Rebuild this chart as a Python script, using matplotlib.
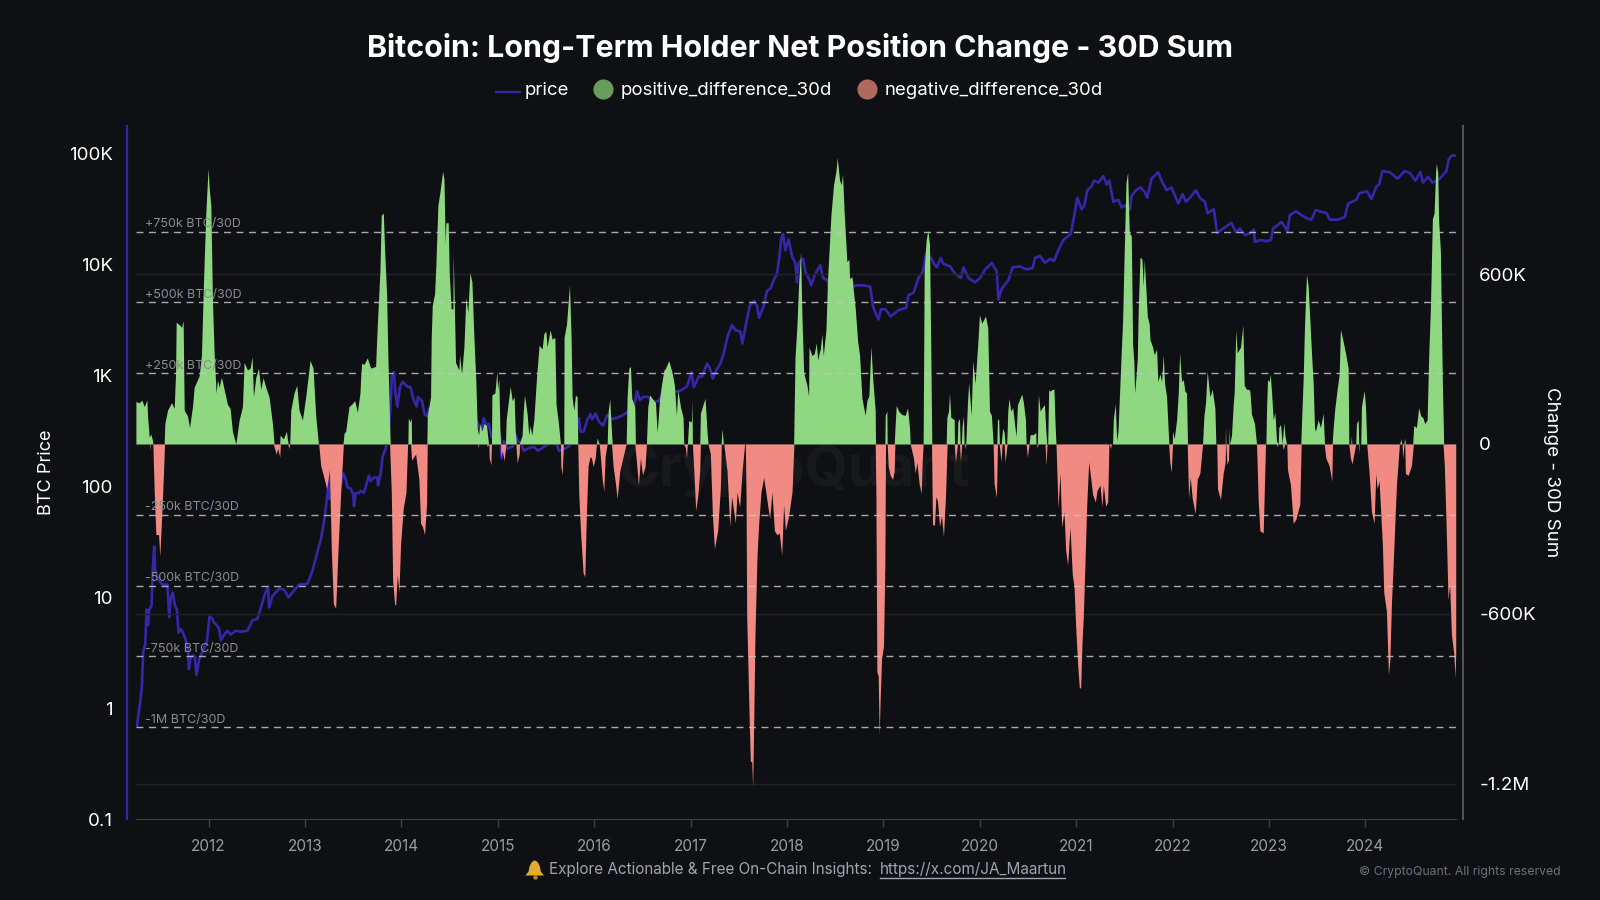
import numpy as np
import matplotlib
matplotlib.use("Agg")
import matplotlib.pyplot as plt
from matplotlib.lines import Line2D
from matplotlib.patches import Polygon, Circle

# (decimal year, thousand BTC over 30 days)
positive_difference_30d = [
(2011.247,150),(2011.281,145),(2011.309,155),(2011.333,132),(2011.361,155),(2011.368,99),(2011.385,24),(2011.402,35),(2011.420,11),(2011.423,0),
(2011.540,0),(2011.547,72),(2011.575,119),(2011.616,146),(2011.644,126),(2011.658,247),(2011.665,430),(2011.713,416),(2011.720,410),(2011.737,436),
(2011.748,119),(2011.782,99),(2011.803,58),(2011.834,132),(2011.851,200),(2011.903,240),(2011.927,315),(2011.948,572),(2011.972,815),(2011.986,910),
(2011.996,973),(2012.007,903),(2012.024,842),(2012.041,504),(2012.059,315),(2012.079,180),(2012.093,227),(2012.110,200),(2012.134,236),(2012.162,193),
(2012.197,139),(2012.224,126),(2012.248,45),(2012.283,0),(2012.318,85),(2012.352,132),(2012.369,288),(2012.404,261),(2012.432,268),(2012.452,308),
(2012.466,166),(2012.490,234),(2012.518,268),(2012.542,193),(2012.566,234),(2012.594,200),(2012.628,166),(2012.663,72),(2012.680,0),
(2012.739,0),(2012.742,31),(2012.777,18),(2012.808,45),(2012.825,0),
(2012.843,0),(2012.853,119),(2012.887,180),(2012.915,207),(2012.939,119),(2012.974,85),(2013.008,166),(2013.053,295),(2013.084,268),(2013.112,99),(2013.140,0),
(2013.395,0),(2013.406,38),(2013.423,45),(2013.457,132),(2013.482,139),(2013.516,153),(2013.544,112),(2013.571,180),(2013.578,234),(2013.588,285),
(2013.613,281),(2013.647,304),(2013.682,268),(2013.733,274),(2013.751,423),(2013.778,612),(2013.792,808),(2013.813,815),(2013.827,680),(2013.847,531),
(2013.861,301),(2013.882,31),(2013.885,0),
(2014.068,0),(2014.072,92),(2014.089,78),(2014.103,92),(2014.106,0),
(2014.265,0),(2014.269,99),(2014.303,166),(2014.310,376),(2014.321,490),(2014.345,531),(2014.359,639),(2014.379,842),(2014.400,889),(2014.428,963),
(2014.442,936),(2014.455,707),(2014.462,781),(2014.486,781),(2014.497,599),(2014.517,477),(2014.535,477),(2014.538,673),(2014.549,504),(2014.562,288),
(2014.597,261),(2014.604,315),(2014.625,247),(2014.649,342),(2014.669,518),(2014.690,464),(2014.711,605),(2014.732,572),(2014.752,382),(2014.773,220),
(2014.787,58),(2014.801,31),(2014.815,72),(2014.835,45),(2014.856,72),(2014.884,65),(2014.904,0),
(2014.935,0),(2014.939,173),(2014.970,180),(2014.991,258),(2014.998,193),(2015.011,231),(2015.022,58),(2015.029,0),
(2015.080,0),(2015.087,85),(2015.129,204),(2015.150,153),(2015.170,166),(2015.181,45),(2015.194,0),
(2015.222,0),(2015.253,31),(2015.264,112),(2015.277,173),(2015.305,105),(2015.322,31),(2015.336,65),(2015.353,31),(2015.374,85),(2015.402,234),
(2015.429,349),(2015.460,335),(2015.478,389),(2015.498,399),(2015.512,342),(2015.543,403),(2015.564,370),(2015.592,376),(2015.605,139),(2015.630,72),(2015.650,0),
(2015.685,0),(2015.688,376),(2015.713,423),(2015.744,561),(2015.761,369),(2015.771,166),(2015.789,119),(2015.806,173),(2015.823,166),(2015.830,0),
(2016.024,0),(2016.031,21),(2016.052,0),
(2016.135,0),(2016.145,116),(2016.162,158),(2016.169,108),(2016.187,0),
(2016.332,0),(2016.342,169),(2016.359,267),(2016.376,274),(2016.390,161),(2016.421,131),(2016.428,0),
(2016.542,0),(2016.556,131),(2016.577,173),(2016.601,161),(2016.636,146),(2016.653,41),(2016.663,86),(2016.677,154),(2016.694,199),(2016.722,259),
(2016.739,267),(2016.774,294),(2016.808,252),(2016.832,207),(2016.853,101),(2016.867,191),(2016.895,131),(2016.922,94),(2016.929,0),
(2016.967,0),(2016.981,83),(2017.009,78),(2017.015,154),(2017.019,0),
(2017.095,0),(2017.102,109),(2017.129,139),(2017.150,161),(2017.171,41),(2017.181,0),
(2017.316,0),(2017.326,53),(2017.340,0),
(2018.069,0),(2018.083,305),(2018.103,418),(2018.121,569),(2018.141,679),(2018.155,449),(2018.173,252),(2018.207,207),(2018.224,169),(2018.228,342),
(2018.259,312),(2018.283,319),(2018.304,357),(2018.318,297),(2018.338,327),(2018.345,335),(2018.362,388),(2018.376,312),(2018.404,403),(2018.421,584),
(2018.456,810),(2018.483,916),(2018.507,961),(2018.521,1011),(2018.545,931),(2018.563,916),(2018.576,953),(2018.594,810),(2018.621,644),(2018.642,652),
(2018.649,584),(2018.673,591),(2018.708,478),(2018.732,365),(2018.753,312),(2018.777,161),(2018.811,101),(2018.829,154),(2018.849,169),(2018.870,345),
(2018.891,221),(2018.915,116),(2018.918,0),
(2019.015,0),(2019.019,101),(2019.036,116),(2019.039,0),
(2019.112,0),(2019.122,71),(2019.133,136),(2019.157,116),(2019.191,104),(2019.226,101),(2019.250,128),(2019.271,56),(2019.278,0),
(2019.412,0),(2019.423,614),(2019.443,720),(2019.461,754),(2019.478,704),(2019.488,434),(2019.502,0),
(2019.651,0),(2019.658,94),(2019.675,116),(2019.685,179),(2019.699,94),(2019.734,86),(2019.737,0),
(2019.765,0),(2019.772,78),(2019.789,90),(2019.796,0),(2019.809,0),(2019.816,63),(2019.830,98),(2019.837,0),
(2019.854,0),(2019.872,146),(2019.885,217),(2019.910,101),(2019.927,293),(2019.951,214),(2019.979,357),(2019.996,456),(2020.020,426),(2020.037,437),
(2020.058,452),(2020.082,410),(2020.100,116),(2020.120,101),(2020.138,0),
(2020.176,0),(2020.183,90),(2020.196,83),(2020.203,0),(2020.221,0),(2020.238,56),(2020.252,41),(2020.262,0),
(2020.279,0),(2020.290,116),(2020.303,161),(2020.321,116),(2020.341,128),(2020.355,86),(2020.376,26),(2020.390,139),(2020.435,176),(2020.452,146),(2020.473,86),(2020.480,0),
(2020.511,0),(2020.521,33),(2020.556,33),(2020.580,41),(2020.583,0),
(2020.597,0),(2020.607,176),(2020.625,116),(2020.652,131),(2020.670,139),(2020.683,56),(2020.694,0),
(2020.704,0),(2020.714,191),(2020.728,186),(2020.752,193),(2020.769,193),(2020.780,72),(2020.790,0),
(2021.377,0),(2021.384,85),(2021.405,142),(2021.419,11),(2021.433,45),(2021.446,153),(2021.467,328),(2021.481,436),(2021.495,646),(2021.516,923),
(2021.533,959),(2021.550,747),(2021.571,734),(2021.585,349),(2021.598,288),(2021.605,180),(2021.619,234),(2021.633,301),(2021.643,477),(2021.661,659),
(2021.681,653),(2021.695,558),(2021.705,650),(2021.723,545),(2021.737,451),(2021.757,423),(2021.764,369),(2021.792,342),(2021.809,315),(2021.833,335),
(2021.847,220),(2021.868,247),(2021.885,220),(2021.902,315),(2021.916,214),(2021.937,166),(2021.951,65),(2021.961,0),
(2021.996,0),(2021.999,45),(2022.016,18),(2022.041,85),(2022.058,180),(2022.072,322),(2022.092,220),(2022.110,227),(2022.127,186),(2022.144,180),(2022.154,0),
(2022.310,0),(2022.324,99),(2022.341,146),(2022.358,257),(2022.386,166),(2022.410,193),(2022.438,126),(2022.448,0),
(2022.545,0),(2022.548,61),(2022.552,0),(2022.583,0),(2022.586,58),(2022.593,0),
(2022.610,31),(2022.628,139),(2022.638,180),(2022.655,403),(2022.669,322),(2022.704,342),(2022.728,420),(2022.742,207),(2022.766,193),(2022.790,193),
(2022.801,186),(2022.818,105),(2022.849,72),(2022.870,0),
(2022.967,0),(2022.974,126),(2022.984,227),(2023.001,220),(2023.012,247),(2023.026,180),(2023.043,85),(2023.060,112),(2023.077,11),(2023.095,0),
(2023.101,58),(2023.119,69),(2023.136,0),(2023.153,76),(2023.164,31),(2023.181,0),
(2023.329,0),(2023.336,72),(2023.354,234),(2023.367,411),(2023.388,599),(2023.405,558),(2023.423,436),(2023.443,301),(2023.457,220),(2023.471,58),
(2023.481,45),(2023.509,85),(2023.533,58),(2023.561,108),(2023.575,0),
(2023.654,0),(2023.665,58),(2023.682,126),(2023.706,193),(2023.727,247),(2023.740,405),(2023.768,362),(2023.796,315),(2023.820,268),(2023.827,0),
(2023.848,0),(2023.854,31),(2023.858,0),(2023.899,0),(2023.906,72),(2023.924,85),(2023.930,0),
(2023.951,0),(2023.958,132),(2023.986,189),(2024.000,132),(2024.013,0),
(2024.355,0),(2024.366,18),(2024.376,0),(2024.397,0),(2024.407,20),(2024.414,0),
(2024.490,0),(2024.500,65),(2024.528,58),(2024.552,128),(2024.573,99),(2024.597,92),(2024.614,72),(2024.639,85),(2024.656,315),(2024.673,477),
(2024.694,795),(2024.711,815),(2024.728,964),(2024.735,991),(2024.749,958),(2024.759,788),(2024.777,680),(2024.797,220),(2024.811,0),
]

negative_difference_30d = [
(2011.392,0),(2011.395,-23),(2011.399,0),(2011.423,0),(2011.437,-172),(2011.454,-320),(2011.482,-320),(2011.495,-397),(2011.513,-266),(2011.533,-104),(2011.544,0),
(2012.670,0),(2012.680,-9),(2012.701,-36),(2012.718,-16),(2012.739,-46),(2012.746,0),(2012.822,0),(2012.832,-16),(2012.843,0),
(2013.143,0),(2013.164,-77),(2013.191,-111),(2013.226,-158),(2013.254,-90),(2013.274,-374),(2013.295,-564),(2013.319,-580),(2013.343,-374),(2013.371,-172),(2013.399,0),
(2013.878,0),(2013.896,-172),(2013.910,-482),(2013.930,-564),(2013.941,-570),(2013.958,-461),(2013.975,-523),(2013.992,-355),(2014.020,-226),(2014.048,-172),(2014.065,0),
(2014.096,0),(2014.106,-57),(2014.148,-36),(2014.182,-124),(2014.200,-280),(2014.220,-293),(2014.241,-320),(2014.262,-212),(2014.269,0),
(2014.794,0),(2014.797,-14),(2014.804,0),(2014.884,0),(2014.891,-9),(2014.908,0),(2014.911,-50),(2014.929,-73),(2014.935,0),
(2015.029,0),(2015.032,-43),(2015.046,-23),(2015.067,-59),(2015.084,0),(2015.188,0),(2015.201,-66),(2015.222,-36),(2015.226,0),
(2015.650,0),(2015.654,-77),(2015.668,-108),(2015.681,0),
(2015.830,0),(2015.840,-172),(2015.858,-307),(2015.885,-455),(2015.903,-469),(2015.920,-239),(2015.937,-77),(2015.954,-50),(2015.962,-45),(2015.972,-50),(2015.990,-80),(2016.010,-50),(2016.024,0),
(2016.052,0),(2016.066,-50),(2016.083,-124),(2016.100,-167),(2016.114,-42),(2016.135,0),
(2016.180,0),(2016.197,-80),(2016.221,-140),(2016.238,-193),(2016.266,-95),(2016.307,-35),(2016.332,0),
(2016.421,0),(2016.439,-65),(2016.459,-145),(2016.480,-50),(2016.501,-110),(2016.528,-80),(2016.542,0),
(2016.926,0),(2016.946,-12),(2016.957,-50),(2016.967,0),
(2017.019,0),(2017.040,-140),(2017.053,-235),(2017.074,-186),(2017.095,-95),(2017.102,0),
(2017.181,0),(2017.205,-35),(2017.226,-246),(2017.247,-370),(2017.281,-306),(2017.309,-155),(2017.319,0),
(2017.344,0),(2017.378,-95),(2017.406,-291),(2017.426,-186),(2017.464,-279),(2017.482,-170),(2017.509,-223),(2017.534,-95),(2017.558,-12),(2017.561,0),
(2017.568,0),(2017.575,-178),(2017.582,-608),(2017.596,-804),(2017.610,-1000),(2017.620,-1121),(2017.634,-1121),(2017.644,-1211),(2017.654,-1000),(2017.668,-668),
(2017.689,-395),(2017.706,-283),(2017.730,-170),(2017.758,-118),(2017.793,-201),(2017.820,-264),(2017.844,-170),(2017.869,-306),(2017.896,-321),(2017.920,-314),
(2017.945,-392),(2017.965,-216),(2017.983,-306),(2018.017,-253),(2018.052,-170),(2018.072,0),
(2018.915,0),(2018.922,-170),(2018.932,-804),(2018.946,-820),(2018.956,-1030),(2018.967,-895),(2018.981,-758),(2019.001,-713),(2019.015,-426),(2019.022,0),
(2019.039,0),(2019.050,-80),(2019.070,-110),(2019.095,-125),(2019.112,-95),(2019.119,0),
(2019.278,0),(2019.312,-50),(2019.329,-103),(2019.347,-65),(2019.371,-140),(2019.392,-175),(2019.402,-65),(2019.412,0),
(2019.499,0),(2019.509,-284),(2019.530,-287),(2019.544,-186),(2019.561,-201),(2019.582,-291),(2019.602,-253),(2019.623,-326),(2019.644,-186),(2019.661,0),
(2019.734,0),(2019.747,-65),(2019.768,0),(2019.789,0),(2019.799,-62),(2019.813,0),(2019.841,0),(2019.851,-17),(2019.854,0),
(2020.138,0),(2020.148,-140),(2020.172,-189),(2020.183,0),(2020.200,0),(2020.221,-62),(2020.231,0),(2020.252,0),(2020.262,-65),(2020.283,0),
(2020.480,0),(2020.493,-47),(2020.511,0),(2020.590,0),(2020.597,-15),(2020.604,0),(2020.676,0),(2020.687,-75),(2020.697,0),
(2020.790,0),(2020.811,-226),(2020.832,-104),(2020.849,-293),(2020.873,-239),(2020.890,-374),(2020.911,-428),(2020.935,-293),(2020.959,-462),(2020.977,-503),
(2020.994,-645),(2021.015,-780),(2021.032,-861),(2021.046,-861),(2021.060,-699),(2021.073,-611),(2021.091,-416),(2021.108,-220),(2021.129,-64),(2021.149,-118),
(2021.170,-178),(2021.198,-205),(2021.215,-165),(2021.246,-145),(2021.267,-220),(2021.281,-145),(2021.305,-220),(2021.326,-205),(2021.339,0),(2021.343,0),(2021.357,-16),(2021.364,0),
(2021.958,0),(2021.971,-64),(2021.985,-100),(2021.999,0),
(2022.151,0),(2022.165,-192),(2022.182,-118),(2022.203,-192),(2022.234,-246),(2022.255,-124),(2022.282,-104),(2022.310,0),
(2022.458,0),(2022.465,-158),(2022.496,-196),(2022.524,-104),(2022.545,-64),(2022.548,0),(2022.552,0),(2022.562,-70),(2022.579,-57),(2022.583,0),
(2022.870,0),(2022.887,-199),(2022.905,-307),(2022.939,-314),(2022.963,0),
(2023.077,0),(2023.084,-9),(2023.095,0),(2023.136,0),(2023.146,-19),(2023.164,0),
(2023.184,0),(2023.191,-91),(2023.222,-145),(2023.250,-280),(2023.278,-266),(2023.319,-212),(2023.333,0),
(2023.571,0),(2023.589,-50),(2023.623,-77),(2023.651,-131),(2023.658,0),
(2023.827,0),(2023.844,-50),(2023.861,-70),(2023.879,-36),(2023.899,0),(2023.930,0),(2023.934,-34),(2023.937,0),
(2024.013,0),(2024.038,-104),(2024.062,-239),(2024.089,-280),(2024.107,-104),(2024.120,-158),(2024.141,-131),(2024.176,-361),(2024.189,-523),(2024.217,-590),
(2024.238,-814),(2024.252,-767),(2024.269,-565),(2024.293,-374),(2024.321,-145),(2024.352,0),
(2024.379,0),(2024.386,-50),(2024.400,0),(2024.407,0),(2024.414,-104),(2024.442,-111),(2024.476,-77),(2024.497,0),
(2024.804,0),(2024.818,-77),(2024.839,-320),(2024.856,-550),(2024.873,-496),(2024.891,-672),(2024.915,-739),(2024.929,-824),(2024.936,-739),
]

# (decimal year, BTC price in USD)
price = [
(2011.257,0.69),(2011.271,0.84),(2011.292,1.15),(2011.309,1.58),(2011.323,3.24),(2011.344,3.8),(2011.357,7.76),(2011.375,5.6),(2011.385,7.76),(2011.409,8.4),
(2011.423,18.6),(2011.437,28.7),(2011.447,17.2),(2011.464,15.8),(2011.489,14),(2011.523,13),(2011.575,13),(2011.592,6.6),(2011.609,9.8),(2011.630,11),
(2011.651,8.4),(2011.672,7.76),(2011.689,4.8),(2011.713,5.2),(2011.734,4.8),(2011.765,4.1),(2011.789,3.24),(2011.796,2.26),(2011.817,2.9),(2011.844,3),
(2011.858,2.9),(2011.875,2.0),(2011.903,2.76),(2011.938,3.24),(2011.983,3.95),(2012.010,6.7),(2012.034,6.5),(2012.059,5.9),(2012.086,5.6),(2012.110,5.2),
(2012.128,4.1),(2012.162,4.6),(2012.197,5),(2012.231,4.6),(2012.283,5),(2012.335,4.9),(2012.404,5),(2012.456,6.2),(2012.508,6.4),(2012.549,8.4),
(2012.584,10.7),(2012.618,12.5),(2012.628,8.1),(2012.663,10.2),(2012.732,12),(2012.784,11.7),(2012.829,10),(2012.887,11.5),(2012.939,13),(2013.026,13.2),
(2013.077,17.2),(2013.129,25.5),(2013.171,35),(2013.198,48),(2013.233,84),(2013.250,135),(2013.254,77),(2013.302,84),(2013.371,102),(2013.399,130),
(2013.423,115),(2013.440,98),(2013.475,95),(2013.502,84),(2013.509,66),(2013.526,87),(2013.561,87),(2013.578,91),(2013.613,87),(2013.664,125),
(2013.682,111),(2013.716,120),(2013.751,120),(2013.758,102),(2013.785,130),(2013.806,186),(2013.837,218),(2013.861,276),(2013.882,445),(2013.903,985),
(2013.923,1067),(2013.937,716),(2013.958,521),(2013.986,776),(2014.013,873),(2014.062,789),(2014.096,776),(2014.124,611),(2014.158,521),(2014.172,635),
(2014.214,587),(2014.241,445),(2014.269,428),(2014.286,500),(2014.320,521),(2014.372,482),(2014.476,445),(2014.614,380),(2014.752,395),(2014.787,380),
(2014.828,311),(2014.856,411),(2014.884,351),(2014.908,365),(2014.935,276),(2014.977,276),(2015.029,276),(2015.039,179),(2015.063,255),(2015.098,218),
(2015.150,226),(2015.188,288),(2015.208,255),(2015.236,245),(2015.270,209),(2015.322,221),(2015.374,226),(2015.416,209),(2015.460,221),(2015.512,236),
(2015.564,245),(2015.616,236),(2015.633,209),(2015.702,218),(2015.754,236),(2015.806,276),(2015.840,411),(2015.858,311),(2015.892,311),(2015.927,395),
(2015.961,445),(2015.979,401),(2016.014,450),(2016.048,384),(2016.093,351),(2016.135,438),(2016.187,401),(2016.256,419),(2016.325,450),(2016.376,500),
(2016.411,524),(2016.446,714),(2016.473,598),(2016.515,641),(2016.566,635),(2016.601,571),(2016.670,587),(2016.722,714),(2016.791,714),(2016.853,714),
(2016.895,726),(2016.964,794),(2017.009,1064),(2017.033,780),(2017.085,973),(2017.119,973),(2017.171,1270),(2017.199,1161),(2017.230,931),(2017.268,1112),
(2017.309,1270),(2017.344,1585),(2017.385,2259),(2017.430,2825),(2017.465,2541),(2017.516,2472),(2017.537,1928),(2017.568,2698),(2017.613,4207),(2017.661,4677),
(2017.689,4207),(2017.710,3281),(2017.758,4207),(2017.793,5741),(2017.827,5998),(2017.862,7161),(2017.896,8185),(2017.924,12218),(2017.938,16672),(2017.958,18707),
(2017.983,13335),(2018.017,16672),(2018.052,11695),(2018.086,10233),(2018.103,6871),(2018.121,10233),(2018.166,11169),(2018.190,8570),(2018.224,7499),(2018.252,6442),
(2018.283,7834),(2018.345,9772),(2018.373,7499),(2018.421,7161),(2018.449,5495),(2018.552,6500),(2018.673,7161),(2018.690,6281),(2018.725,6442),(2018.794,6442),
(2018.863,6281),(2018.891,4207),(2018.915,3681),(2018.949,3170),(2018.974,3917),(2019.019,3917),(2019.077,3373),(2019.157,3855),(2019.236,4027),(2019.260,5248),
(2019.312,5495),(2019.364,7499),(2019.409,8570),(2019.443,12500),(2019.485,11695),(2019.519,10233),(2019.554,9354),(2019.595,11376),(2019.623,10046),(2019.692,9528),
(2019.744,8185),(2019.803,7499),(2019.830,9354),(2019.882,7499),(2019.951,6855),(2020.003,7499),(2020.055,8954),(2020.124,10233),(2020.176,8570),(2020.193,4808),
(2020.227,5998),(2020.296,7161),(2020.341,9354),(2020.417,9528),(2020.486,8954),(2020.548,9204),(2020.572,11376),(2020.624,11858),(2020.676,10233),(2020.728,11169),
(2020.769,10666),(2020.814,13305),(2020.866,16482),(2020.942,18578),(2020.970,24547),(2021.011,39537),(2021.056,31117),(2021.084,33729),(2021.115,46345),(2021.160,50119),
(2021.184,56494),(2021.229,54200),(2021.281,62087),(2021.315,52119),(2021.343,56494),(2021.384,36475),(2021.436,37931),(2021.471,32359),(2021.505,33729),(2021.557,31117),
(2021.574,41115),(2021.619,46345),(2021.667,48978),(2021.712,44463),(2021.736,39537),(2021.781,58749),(2021.850,67298),(2021.885,56494),(2021.937,46345),(2021.989,48978),
(2022.058,35075),(2022.103,42756),(2022.137,36475),(2022.179,39537),(2022.241,46345),(2022.282,39537),(2022.334,36475),(2022.362,28774),(2022.427,31117),(2022.462,19011),
(2022.524,20941),(2022.610,23550),(2022.655,19320),(2022.697,20941),(2022.749,18281),(2022.801,18880),(2022.842,20417),(2022.853,15849),(2022.905,16482),(2022.974,16106),
(2023.019,16482),(2023.043,20941),(2023.129,23933),(2023.164,21777),(2023.188,19320),(2023.215,27606),(2023.278,29923),(2023.336,27606),(2023.388,25942),(2023.440,25119),
(2023.481,30620),(2023.595,28774),(2023.630,25119),(2023.716,25119),(2023.785,26546),(2023.820,35075),(2023.906,37931),(2023.934,43451),(2024.017,45186),(2024.062,38548),
(2024.114,50119),(2024.141,52119),(2024.176,68865),(2024.252,67298),(2024.331,58749),(2024.407,68865),(2024.459,66222),(2024.518,56494),(2024.569,67298),(2024.597,54200),
(2024.649,61094),(2024.694,54200),(2024.770,58749),(2024.839,68865),(2024.863,87297),(2024.891,94624),(2024.925,94624),
]

year_ticks = list(range(2012, 2025))
price_ticks = [0.1, 1, 10, 100, 1000, 10000, 100000]
price_labels = ["0.1", "1", "10", "100", "1K", "10K", "100K"]
change_ticks = [-1200, -600, 0, 600]
change_labels = ["-1.2M", "-600K", "0", "600K"]
guide_levels = [750, 500, 250, -250, -500, -750, -1000]
guide_labels = ["+750k BTC/30D", "+500k BTC/30D", "+250k BTC/30D", "-250k BTC/30D",
                "-500k BTC/30D", "-750k BTC/30D", "-1M BTC/30D"]

BG = "#0f1013"
GREEN = "#8fd780"
RED = "#f08a82"
PURPLE = "#3726a8"

plt.rcParams["font.family"] = ["Inter", "DejaVu Sans"]

W, H = 1568.0, 882.0
def fx(x):
	return x / W
def fy(y):
	return 1 - y / H

fig = plt.figure(figsize=(16, 9), dpi=100, facecolor=BG)
ax = fig.add_axes([fx(133), fy(803), fx(1427) - fx(133), fy(123) - fy(803)])
ax.patch.set_visible(False)
ax2 = ax.twinx()
ax2.patch.set_visible(False)

# watermark sits behind both axes
fig.text(fx(778), fy(461), "CryptoQuant", color="#18191d", fontsize=40, ha="center", va="center",
         fontweight="bold", zorder=-1)

price_x, price_y = np.array(price).T
ax.plot(price_x, price_y, color=PURPLE, lw=1.9, solid_joinstyle="round")
ax.set_yscale("log")
ax.set_ylim(0.1, 177000)
ax.set_xlim(2011.245, 2024.94)
ax.set_yticks(price_ticks)
ax.set_yticklabels(price_labels)
ax.yaxis.set_minor_locator(matplotlib.ticker.NullLocator())
ax.tick_params(axis="y", length=0, pad=10, labelsize=13.5, labelcolor="white")
ax.set_xticks(year_ticks)
ax.set_xticklabels(year_ticks)
ax.tick_params(axis="x", length=6, width=1, color="#3f3f47", pad=8, labelsize=11, labelcolor="#9b9ba3")

pos_x, pos_y = np.array(positive_difference_30d).T
neg_x, neg_y = np.array(negative_difference_30d).T
ax2.fill_between(pos_x, 0, pos_y, color=GREEN, lw=0, zorder=2)
ax2.fill_between(neg_x, 0, neg_y, color=RED, lw=0, zorder=2)
ax2.set_ylim(-1325.6, 1124.4)
ax2.set_yticks(change_ticks)
ax2.set_yticklabels(change_labels)
ax2.tick_params(axis="y", length=0, pad=11.5, labelsize=13.5, labelcolor="white")
ax2.grid(axis="y", color="#212227", lw=1, zorder=1)
ax2.set_axisbelow(True)

for level, label in zip(guide_levels, guide_labels):
	ax2.axhline(level, color="#c4c4ca", lw=1, dashes=(5, 4), alpha=0.85, zorder=3)
	ax2.annotate(label, (2011.245, level), xytext=(7, 1), textcoords="offset points",
	             color="#8b8b93", fontsize=9, va="bottom", zorder=4)

for a in (ax, ax2):
	a.spines["top"].set_visible(False)
	a.spines["right"].set_visible(False)
	a.spines["left"].set_visible(False)
ax.spines["bottom"].set_color("#3f3f47")
ax2.spines["bottom"].set_visible(False)
ax.spines["left"].set_visible(True)
ax.spines["left"].set_position(("outward", 6.6))
ax.spines["left"].set_color(PURPLE)
ax.spines["left"].set_linewidth(1.6)
ax2.spines["right"].set_visible(True)
ax2.spines["right"].set_position(("outward", 5.2))
ax2.spines["right"].set_color("#55555c")
ax2.spines["right"].set_linewidth(1.4)

fig.text(fx(784), fy(47), "Bitcoin: Long-Term Holder Net Position Change - 30D Sum", color="white",
         fontsize=21.85, fontweight="bold", ha="center", va="center")

fig.add_artist(Line2D([fx(486), fx(510)], [fy(90), fy(90)], color=PURPLE, lw=1.6))
fig.text(fx(514), fy(89), "price", color="white", fontsize=13.4, va="center")
fig.add_artist(Line2D([fx(591)], [fy(87)], marker="o", ms=14.5, color="#689c5c", mew=0))
fig.text(fx(608), fy(89), "positive_difference_30d", color="white", fontsize=13.4, va="center")
fig.add_artist(Line2D([fx(850)], [fy(87)], marker="o", ms=14.5, color="#b0695f", mew=0))
fig.text(fx(867), fy(89), "negative_difference_30d", color="white", fontsize=13.4, va="center")

fig.text(fx(46), fy(463), "BTC Price", color="white", fontsize=13, rotation=90, ha="center", va="center")
fig.text(fx(1520), fy(463), "Change - 30D Sum", color="white", fontsize=13.5, rotation=270, ha="center", va="center")

# no installed font has the bell emoji, so it is drawn as a small shape
bell = [(524, 843), (527, 845), (529, 849), (530, 854), (533, 858), (515, 858), (518, 854), (519, 849), (521, 845)]
fig.add_artist(Polygon([(fx(x), fy(y)) for x, y in bell], closed=True, color="#e3ab2f", lw=0,
                       transform=fig.transFigure))
fig.add_artist(Line2D([fx(524)], [fy(859.5)], marker="o", ms=3.2, color="#b5801f", mew=0))

fig.text(fx(538), fy(852), "Explore Actionable & Free On-Chain Insights:", color="#a3a3ab", fontsize=11, va="center")
fig.text(fx(862), fy(852), "https://x.com/JA_Maartun", color="#a3a3ab", fontsize=11, va="center")
fig.add_artist(Line2D([fx(862), fx(1044)], [fy(860), fy(860)], color="#a3a3ab", lw=1))
fig.text(fx(1529), fy(855), "\u00a9 CryptoQuant. All rights reserved", color="#6f6f77", fontsize=8.8,
         ha="right", va="center")

fig.savefig("out.png", dpi=100, facecolor=BG)
